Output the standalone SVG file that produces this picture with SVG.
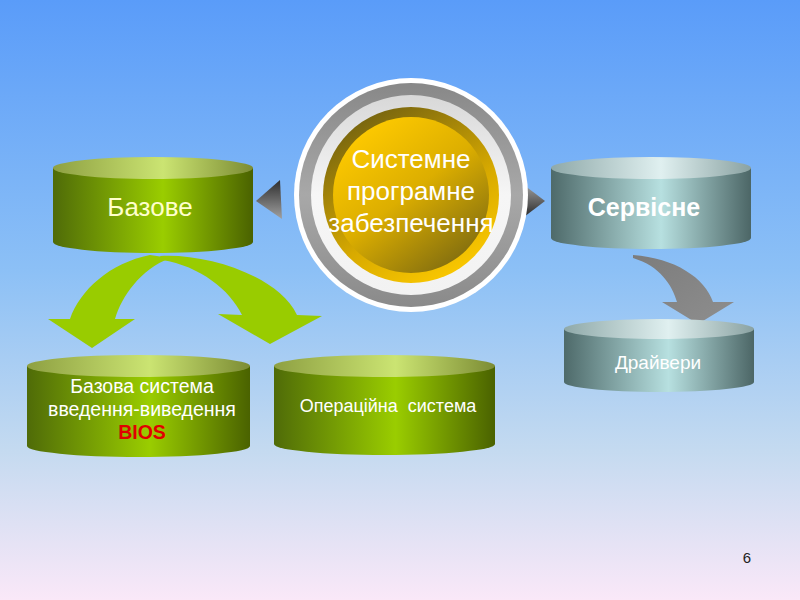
<svg xmlns="http://www.w3.org/2000/svg" width="800" height="600" viewBox="0 0 800 600">
<defs>
<linearGradient id="bg" x1="0" y1="0" x2="0" y2="1">
<stop offset="0" stop-color="#5a9cf9"/>
<stop offset="0.45" stop-color="#8cc0f6"/>
<stop offset="0.75" stop-color="#c4daf0"/>
<stop offset="1" stop-color="#fae8f8"/>
</linearGradient>
<linearGradient id="gBody" x1="0" y1="0" x2="1" y2="0">
<stop offset="0" stop-color="#4f6b08"/>
<stop offset="0.55" stop-color="#9acd00"/>
<stop offset="1" stop-color="#4a6200"/>
</linearGradient>
<linearGradient id="gTop" x1="0" y1="0" x2="1" y2="0">
<stop offset="0" stop-color="#8ea042"/>
<stop offset="0.55" stop-color="#cbe472"/>
<stop offset="1" stop-color="#7c8c34"/>
</linearGradient>
<linearGradient id="tBody" x1="0" y1="0" x2="1" y2="0">
<stop offset="0" stop-color="#4e6a6a"/>
<stop offset="0.55" stop-color="#b7e0e0"/>
<stop offset="1" stop-color="#4c6666"/>
</linearGradient>
<linearGradient id="tTop" x1="0" y1="0" x2="1" y2="0">
<stop offset="0" stop-color="#8fa9a9"/>
<stop offset="0.55" stop-color="#e0f0f0"/>
<stop offset="1" stop-color="#8aa2a2"/>
</linearGradient>
<linearGradient id="ringGray" x1="0" y1="0" x2="0" y2="1">
<stop offset="0" stop-color="#888888"/>
<stop offset="0.5" stop-color="#a8a8a8"/>
<stop offset="1" stop-color="#8a8a8a"/>
</linearGradient>
<linearGradient id="ringLight" x1="0" y1="0" x2="0" y2="1">
<stop offset="0" stop-color="#d8d8d8"/>
<stop offset="0.5" stop-color="#f6f6f6"/>
<stop offset="1" stop-color="#f2f2f2"/>
</linearGradient>
<linearGradient id="goldOuter" x1="0.2" y1="0" x2="0.8" y2="1">
<stop offset="0" stop-color="#6e5e10"/>
<stop offset="0.6" stop-color="#d8aa00"/>
<stop offset="1" stop-color="#ffcc00"/>
</linearGradient>
<linearGradient id="goldInner" x1="0.2" y1="0.1" x2="0.85" y2="0.95">
<stop offset="0" stop-color="#fcc800"/>
<stop offset="0.45" stop-color="#dcae00"/>
<stop offset="1" stop-color="#7d6a10"/>
</linearGradient>
<linearGradient id="triL" x1="0" y1="0" x2="0" y2="1">
<stop offset="0" stop-color="#2e2e2e"/>
<stop offset="1" stop-color="#a0a0a0"/>
</linearGradient>
<linearGradient id="triR" x1="0" y1="0" x2="0" y2="1">
<stop offset="0" stop-color="#a8a8a8"/>
<stop offset="1" stop-color="#1e1e1e"/>
</linearGradient>
<linearGradient id="grayArrow" x1="0" y1="0" x2="1" y2="1">
<stop offset="0" stop-color="#7c7c7c"/>
<stop offset="1" stop-color="#8e8e8e"/>
</linearGradient>
</defs>
<style>
.txt{font-family:"Liberation Sans",Arial,sans-serif;text-anchor:middle;fill:#ffffff}
.pre{white-space:pre}
</style>
<rect x="0" y="0" width="800" height="600" fill="url(#bg)"/>

<g id="connectors">
<path d="M150 255 C110 263 80 290 70 319 L48 319 L92 348 L135 319 L115 319 C122 296 140 270 170 258 Z" fill="#99cc00"/>
<path d="M160 256 C205 253 278 275 297 315 L322 316 L270 344 L218 314 L242 315 C230 290 200 266 162 260 Z" fill="#99cc00"/>
<path d="M633 255 C675 258 705 278 713 302 L734 302 L698 324 L662 302 L677 302 C672 285 660 266 633 258 Z" fill="url(#grayArrow)"/>
<polygon points="256,201 280,180 282,219" fill="url(#triL)"/>
<polygon points="520,182 520,220 545,201" fill="url(#triR)"/>
</g>

<g id="system">
<circle cx="411" cy="195" r="117" fill="#ffffff"/>
<circle cx="411" cy="195" r="112" fill="url(#ringGray)"/>
<circle cx="411" cy="195" r="100" fill="url(#ringLight)"/>
<circle cx="411" cy="195" r="88" fill="url(#goldOuter)"/>
<circle cx="411" cy="195" r="78" fill="url(#goldInner)"/>
<text class="txt" font-size="26" x="411" y="168">Системне</text>
<text class="txt" font-size="26" x="411" y="200">програмне</text>
<text class="txt" font-size="26" x="411" y="232">забезпечення</text>
</g>

<g id="bazove">
<path d="M53 168 V242 A100 11 0 0 0 253 242 V168 Z" fill="url(#gBody)"/>
<ellipse cx="153" cy="168" rx="100" ry="11" fill="url(#gTop)"/>
<text class="txt" font-size="26" x="150" y="216" style="fill:#ffffcc">Базове</text>
</g>

<g id="servisne">
<path d="M551 168 V238 A100 11 0 0 0 751 238 V168 Z" fill="url(#tBody)"/>
<ellipse cx="651" cy="168" rx="100" ry="11" fill="url(#tTop)"/>
<text class="txt" font-size="25" font-weight="bold" x="644" y="216">Сервісне</text>
</g>

<g id="bios">
<path d="M27 366 V446 A111.5 11 0 0 0 250 446 V366 Z" fill="url(#gBody)"/>
<ellipse cx="138.5" cy="366" rx="111.5" ry="11" fill="url(#gTop)"/>
<text class="txt" font-size="19.5" x="142" y="393">Базова система</text>
<text class="txt" font-size="19.5" x="142" y="416">введення-виведення</text>
<text class="txt" font-size="19.5" font-weight="bold" x="142" y="439" style="fill:#e00000">BIOS</text>
</g>

<g id="os">
<path d="M274 366 V444 A110.5 11 0 0 0 495 444 V366 Z" fill="url(#gBody)"/>
<ellipse cx="384.5" cy="366" rx="110.5" ry="11" fill="url(#gTop)"/>
<text class="txt pre" font-size="18" x="388" y="412">Операційна  система</text>
</g>

<g id="drivers">
<path d="M564 329 V382 A95 10 0 0 0 754 382 V329 Z" fill="url(#tBody)"/>
<ellipse cx="659" cy="329" rx="95" ry="10" fill="url(#tTop)"/>
<text class="txt" font-size="19" x="658" y="369">Драйвери</text>
</g>

<text x="747" y="563" font-family="Liberation Sans,Arial,sans-serif" font-size="15" fill="#222222" text-anchor="middle">6</text>
</svg>
